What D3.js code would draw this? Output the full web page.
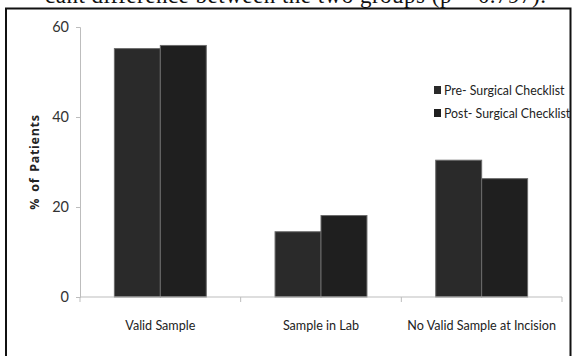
<!DOCTYPE html>
<html>
<head>
<meta charset="utf-8">
<script src="https://cdn.jsdelivr.net/npm/d3@7"></script>
<style>
  html, body { margin: 0; padding: 0; background: #fff; }
  svg { display: block; }
</style>
</head>
<body>
<svg id="chart" width="574" height="356"></svg>
<script>
// Outcome categories and the share of patients (%) before and after the checklist
const categories = ["Valid Sample", "Sample in Lab", "No Valid Sample at Incision"];
const seriesNames = ["Pre- Surgical Checklist", "Post- Surgical Checklist"];
const preValues = [55.2, 14.5, 30.4];
const postValues = [55.9, 18.1, 26.3];
const yTicks = [0, 20, 40, 60];
const caption = "cant difference between the two groups (p = 0.797).";

const colors = ["#2a2a2a", "#1f1f1f"];
const labelFont = "Lato, 'Open Sans', sans-serif";
const condense = 0.9; // narrow the humanist sans to a compact width

const svg = d3.select("#chart");
const plot = { left: 80, right: 562, top: 27, bottom: 297 };

// Running text of the page above the figure
svg.append("text")
  .attr("x", 45).attr("y", 3)
  .attr("font-family", "'Liberation Serif', 'Times New Roman', serif")
  .attr("font-size", 23)
  .attr("textLength", 501)
  .attr("lengthAdjust", "spacing")
  .attr("fill", "#111")
  .text(caption);

// Figure frame
svg.append("rect")
  .attr("x", 6).attr("y", 8.5)
  .attr("width", 564.5).attr("height", 360)
  .attr("fill", "#fff")
  .attr("stroke", "#111")
  .attr("stroke-width", 2);

const x0 = d3.scaleBand()
  .domain(categories)
  .range([plot.left, plot.right])
  .padding(0);

const groupPad = 0.214;
const x1 = d3.scaleBand()
  .domain(seriesNames)
  .range([x0.bandwidth() * groupPad, x0.bandwidth() * (1 - groupPad)])
  .padding(0);

const y = d3.scaleLinear()
  .domain([0, 60])
  .range([plot.bottom, plot.top]);

// Bars
const rows = categories.map((c, i) => ({ category: c, values: [preValues[i], postValues[i]] }));
const groups = svg.append("g").selectAll("g")
  .data(rows)
  .join("g")
  .attr("transform", d => `translate(${x0(d.category)},0)`);

groups.selectAll("rect")
  .data(d => d.values.map((v, k) => ({ name: seriesNames[k], value: v, k })))
  .join("rect")
  .attr("x", d => x1(d.name))
  .attr("y", d => y(d.value))
  .attr("width", x1.bandwidth())
  .attr("height", d => y(0) - y(d.value))
  .attr("fill", d => colors[d.k])
  .attr("stroke", "#6a6a6a")
  .attr("stroke-width", 1);

// Y axis
const yAxis = svg.append("g")
  .attr("transform", `translate(${plot.left},0)`)
  .call(d3.axisLeft(y).tickValues(yTicks).tickSize(4).tickPadding(7).tickFormat(d3.format("d")));
yAxis.select(".domain").attr("stroke", "#bdbdbd");
yAxis.selectAll(".tick line").attr("stroke", "#bdbdbd");
yAxis.selectAll(".tick text")
  .attr("font-family", labelFont)
  .attr("font-size", 14.5)
  .attr("fill", "#333");

// X axis with ticks on category boundaries
const xAxis = svg.append("g")
  .attr("transform", `translate(0,${plot.bottom})`);
xAxis.append("line")
  .attr("x1", plot.left).attr("x2", plot.right)
  .attr("stroke", "#bdbdbd");
const boundaries = categories.map(c => x0(c)).concat([x0(categories[categories.length - 1]) + x0.bandwidth()]);
xAxis.selectAll("line.tick")
  .data(boundaries)
  .join("line")
  .attr("class", "tick")
  .attr("x1", d => d).attr("x2", d => d)
  .attr("y1", 0).attr("y2", 5)
  .attr("stroke", "#bdbdbd");
xAxis.selectAll("text")
  .data(categories)
  .join("text")
  .attr("transform", d => `translate(${x0(d) + x0.bandwidth() / 2},33) scale(${condense},1)`)
  .attr("text-anchor", "middle")
  .attr("font-family", labelFont)
  .attr("font-size", 14)
  .attr("fill", "#222")
  .text(d => d);

// Y axis title
svg.append("text")
  .attr("transform", `translate(39,${(plot.top + plot.bottom) / 2}) rotate(-90)`)
  .attr("text-anchor", "middle")
  .attr("font-family", "'Open Sans', 'DejaVu Sans', sans-serif")
  .attr("font-weight", "bold")
  .attr("font-size", 12.5)
  .attr("letter-spacing", 0.7)
  .attr("word-spacing", 2)
  .attr("fill", "#222")
  .text("% of Patients");

// Legend
const legend = svg.append("g").attr("transform", "translate(434,0)");
const legendRows = legend.selectAll("g")
  .data(seriesNames)
  .join("g")
  .attr("transform", (d, i) => `translate(0,${90 + i * 23})`);
legendRows.append("rect")
  .attr("x", 0).attr("y", -4)
  .attr("width", 7).attr("height", 8)
  .attr("fill", (d, i) => colors[i]);
legendRows.append("text")
  .attr("transform", `translate(10,5) scale(${condense * 0.98},1)`)
  .attr("font-family", labelFont)
  .attr("font-size", 14)
  .attr("fill", "#222")
  .text(d => d);
</script>
</body>
</html>
